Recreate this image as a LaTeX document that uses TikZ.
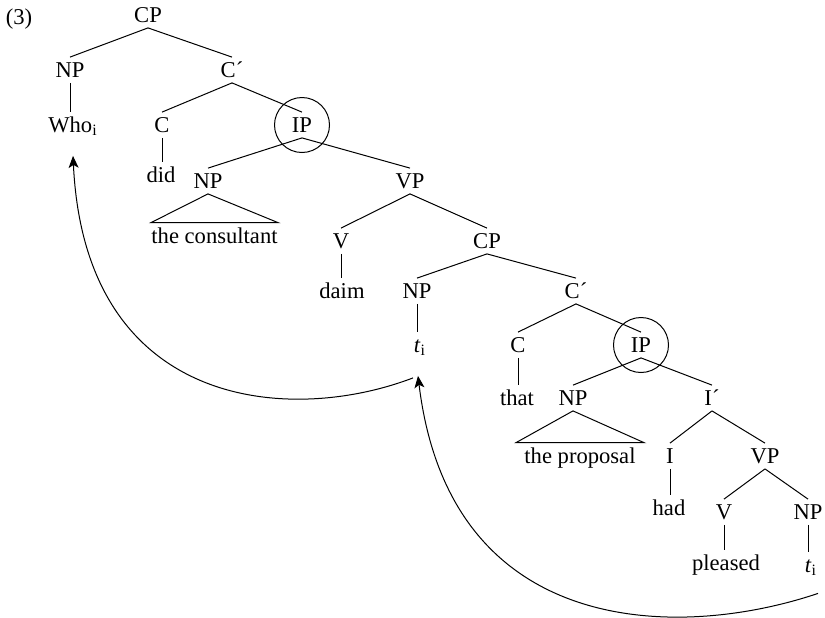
\documentclass[tikz,border=0pt]{standalone}
\usepackage{fontspec}
\setmainfont{Liberation Serif}
\usetikzlibrary{arrows.meta}

\begin{document}
\begin{tikzpicture}[x=0.5pt,y=-0.5pt,
	cat/.style={inner sep=2.5pt,text height=7.5pt,text depth=0pt},
	ring/.style={draw,line width=0.5pt},
	move/.style={line width=0.5pt,-{Stealth[length=6pt,width=5pt,inset=1.5pt]}},
	font=\fontsize{11.3}{13}\selectfont]
	\useasboundingbox (0,0) rectangle (825,617);
	\node[cat] (exnum) at (19,17) {(3)};
	\node[cat] (cp) at (148,15) {CP};
	\node[cat] (np) at (70,70) {NP};
	\node[cat] (cbar) at (232,70) {C´};
	\node[cat] (who) at (73,125) {Who\textsubscript{i}};
	\node[cat] (c) at (162,125) {C};
	\node[cat] (ip) at (302,125) {IP};
	\node[cat] (did) at (161,175) {did};
	\node[cat] (npsubj) at (208,181) {NP};
	\node[cat] (vp) at (410,181) {VP};
	\node[cat,inner xsep=0pt] (consultant) at (214.5,235.5) {the consultant};
	\node[cat] (v) at (341,241) {V};
	\node[cat] (cpemb) at (487,241) {CP};
	\node[cat] (daim) at (342,291) {daim};
	\node[cat] (nptrace) at (417,291) {NP};
	\node[cat] (cbaremb) at (576,291) {C´};
	\node[cat] (tint) at (420,345) {\textit{t}\textsubscript{i}};
	\node[cat] (cemb) at (518,345) {C};
	\node[cat] (ipemb) at (641,345) {IP};
	\node[cat] (that) at (517,398) {that};
	\node[cat] (npobj) at (573,398) {NP};
	\node[cat] (ibar) at (712,398) {I´};
	\node[cat,inner xsep=4pt] (proposal) at (580,455.5) {the proposal};
	\node[cat] (infl) at (670,456) {I};
	\node[cat] (vpemb) at (765,456) {VP};
	\node[cat] (had) at (669,508) {had};
	\node[cat] (vemb) at (724,512) {V};
	\node[cat] (npemb) at (808,512) {NP};
	\node[cat] (pleased) at (726,563) {pleased};
	\node[cat] (tlow) at (811,564.5) {\textit{t}\textsubscript{i}};
	\draw[ring] (ip) circle[radius=13.75pt];
	\draw[ring] (ipemb) circle[radius=13.75pt];
	\begin{scope}[line width=0.5pt]
		\foreach \mother/\daughter in {cp/np,cp/cbar,cbar/c,cbar/ip,ip/npsubj,ip/vp,
			vp/v,vp/cpemb,cpemb/nptrace,cpemb/cbaremb,cbaremb/cemb,cbaremb/ipemb,
			ipemb/npobj,ipemb/ibar,ibar/infl,ibar/vpemb,vpemb/vemb,vpemb/npemb}
			\draw (\mother.south) -- (\daughter.north);
		\foreach \mother/\daughter in {np/who,c/did,v/daim,nptrace/tint,cemb/that,
			infl/had,vemb/pleased,npemb/tlow}
			\draw (\mother.south) -- (\mother.south |- \daughter.north);
		\draw (npsubj.south) -- (consultant.north west) -- (consultant.north east) -- cycle;
		\draw (npobj.south) -- (proposal.north west) -- (proposal.north east) -- cycle;
	\end{scope}
	\coordinate (firsttail) at ([xshift=-3.5pt,yshift=-10pt]tint.south);
	\coordinate (firsthead) at ([yshift=-9pt]who.south);
	\coordinate (secondtail) at ([xshift=3.5pt,yshift=-8pt]tlow.south);
	\coordinate (secondhead) at ([xshift=-1pt,yshift=-9pt]tint.south);
	\draw[move] (firsttail) .. controls (290,425) and (85,410) .. (firsthead);
	\draw[move] (secondtail) .. controls (680,640) and (450,640) .. (secondhead);
\end{tikzpicture}
\end{document}
